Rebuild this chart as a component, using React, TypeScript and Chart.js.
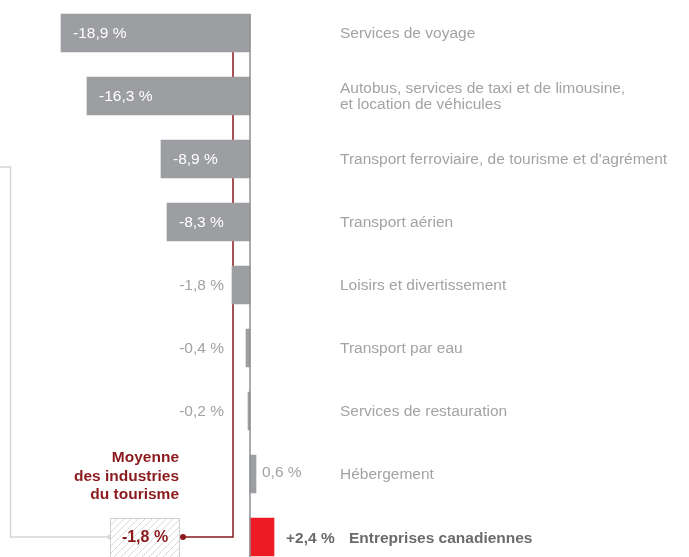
import React, { useEffect, useRef } from "react";
import { Chart, registerables } from "chart.js";

Chart.register(...registerables);

const categories: string[][] = [
  ["Services de voyage"],
  ["Autobus, services de taxi et de limousine,", "et location de véhicules"],
  ["Transport ferroviaire, de tourisme et d'agrément"],
  ["Transport aérien"],
  ["Loisirs et divertissement"],
  ["Transport par eau"],
  ["Services de restauration"],
  ["Hébergement"],
  ["Entreprises canadiennes"],
];
const values: number[] = [-18.9, -16.3, -8.9, -8.3, -1.8, -0.4, -0.2, 0.6, 2.4];
const valueLabels: string[] = ["-18,9 %", "-16,3 %", "-8,9 %", "-8,3 %", "-1,8 %", "-0,4 %", "-0,2 %", "0,6 %", "+2,4 %"];
const average = -1.8;
const averageLabel = "-1,8 %";
const averageTitle: string[] = ["Moyenne", "des industries", "du tourisme"];

const GRAY = "#9d9ea1";
const RED = "#ed1c24";
const DARKRED = "#8b1a1d";
const TEXTGRAY = "#a3a3a6";
const FONT = "'Liberation Sans', Arial, Helvetica, sans-serif";
const FS = 15.5;

const overlay = {
  id: "overlay",
  beforeDatasetsDraw(chart: any) {
    const { ctx } = chart;
    const xs = chart.scales.x;
    const ys = chart.scales.y;
    const last = values.length - 1;
    const xAvg = xs.getPixelForValue(average) + 1;
    const yTop = ys.getPixelForValue(0);
    const yLast = ys.getPixelForValue(last);
    const boxRight = xAvg - 53;
    const boxLeft = boxRight - 70;
    const boxTop = yLast - 19;
    const boxBottom = yLast + 21;
    ctx.save();
    // gray bracket
    ctx.strokeStyle = "#d6d6d6";
    ctx.lineWidth = 1.5;
    ctx.beginPath();
    ctx.moveTo(boxLeft, yLast);
    ctx.lineTo(10.5, yLast);
    ctx.lineTo(10.5, ys.getPixelForValue(2) + 8);
    ctx.lineTo(-2, ys.getPixelForValue(2) + 8);
    ctx.stroke();
    ctx.fillStyle = "#d6d6d6";
    ctx.beginPath();
    ctx.arc(boxLeft, yLast, 2.5, 0, Math.PI * 2);
    ctx.fill();
    // hatched box
    ctx.fillStyle = "#ffffff";
    ctx.fillRect(boxLeft, boxTop, boxRight - boxLeft, boxBottom - boxTop);
    ctx.save();
    ctx.beginPath();
    ctx.rect(boxLeft, boxTop, boxRight - boxLeft, boxBottom - boxTop);
    ctx.clip();
    ctx.strokeStyle = "#d9d9d9";
    ctx.lineWidth = 1;
    for (let k = -60; k < 120; k += 7) {
      ctx.beginPath();
      ctx.moveTo(boxLeft + k, boxBottom);
      ctx.lineTo(boxLeft + k + (boxBottom - boxTop), boxTop);
      ctx.stroke();
    }
    ctx.restore();
    ctx.strokeStyle = "#d0d0d0";
    ctx.lineWidth = 1;
    ctx.strokeRect(boxLeft + 0.5, boxTop + 0.5, boxRight - boxLeft - 1, boxBottom - boxTop);
    // average text in box
    ctx.fillStyle = DARKRED;
    ctx.font = `bold 16px ${FONT}`;
    ctx.textAlign = "center";
    ctx.textBaseline = "middle";
    ctx.fillText(averageLabel, (boxLeft + boxRight) / 2, yLast + 1);
    // title
    ctx.font = `bold ${FS}px ${FONT}`;
    ctx.textAlign = "right";
    averageTitle.forEach((t, i) => {
      ctx.fillText(t, boxRight - 1, yLast - 79 + i * 18.5);
    });
    // red average line
    ctx.strokeStyle = DARKRED;
    ctx.lineWidth = 1.5;
    ctx.beginPath();
    ctx.moveTo(xAvg, yTop);
    ctx.lineTo(xAvg, yLast);
    ctx.lineTo(boxRight + 3, yLast);
    ctx.stroke();
    ctx.fillStyle = DARKRED;
    ctx.beginPath();
    ctx.arc(boxRight + 3, yLast, 3, 0, Math.PI * 2);
    ctx.fill();
    ctx.restore();
  },
  afterDatasetsDraw(chart: any) {
    const { ctx } = chart;
    const xs = chart.scales.x;
    const ys = chart.scales.y;
    const x0 = xs.getPixelForValue(0);
    const xAvg = xs.getPixelForValue(average);
    const last = values.length - 1;
    ctx.save();
    // zero line
    ctx.strokeStyle = "#8e8f93";
    ctx.lineWidth = 1.5;
    ctx.beginPath();
    ctx.moveTo(x0, ys.getPixelForValue(0) - 19);
    ctx.lineTo(x0, chart.height);
    ctx.stroke();
    ctx.textBaseline = "middle";
    values.forEach((v, i) => {
      const y = ys.getPixelForValue(i);
      const xv = xs.getPixelForValue(v);
      const isLast = i === last;
      // value label
      if (v <= -5) {
        ctx.fillStyle = "#ffffff";
        ctx.font = `${FS}px ${FONT}`;
        ctx.textAlign = "left";
        ctx.fillText(valueLabels[i], xv + 12, y + 1);
      } else if (v < 0) {
        ctx.fillStyle = TEXTGRAY;
        ctx.font = `${FS}px ${FONT}`;
        ctx.textAlign = "right";
        ctx.fillText(valueLabels[i], Math.min(xv, xAvg) - 8, y + 1);
      } else if (isLast) {
        ctx.fillStyle = "#6b6b6e";
        ctx.font = `bold ${FS}px ${FONT}`;
        ctx.textAlign = "left";
        ctx.fillText(valueLabels[i], xv + 12, y + 2);
      } else {
        ctx.fillStyle = TEXTGRAY;
        ctx.font = `${FS}px ${FONT}`;
        ctx.textAlign = "left";
        ctx.fillText(valueLabels[i], xv + 6, y - 1);
      }
      // category label
      const lines = categories[i];
      ctx.textAlign = "left";
      if (isLast) {
        ctx.fillStyle = "#6b6b6e";
        ctx.font = `bold ${FS}px ${FONT}`;
        ctx.fillText(lines[0], x0 + 99, y + 2);
      } else {
        ctx.fillStyle = TEXTGRAY;
        ctx.font = `${FS}px ${FONT}`;
        const lh = 16;
        lines.forEach((t, k) => {
          ctx.fillText(t, x0 + 90, y + 1 + (k - (lines.length - 1) / 2) * lh);
        });
      }
    });
    ctx.restore();
  },
};

export default function App() {
  const ref = useRef<HTMLCanvasElement>(null);
  useEffect(() => {
    if (!ref.current) return;
    const chart = new Chart(ref.current, {
      type: "bar",
      data: {
        labels: categories.map((c) => c.join(" ")),
        datasets: [
          {
            data: values,
            backgroundColor: values.map((_, i) => (i === values.length - 1 ? RED : GRAY)),
            borderWidth: 0,
            barThickness: 38,
          },
        ],
      },
      options: {
        indexAxis: "y",
        animation: false,
        responsive: false,
        devicePixelRatio: 1,
        layout: { padding: { top: 1.5, bottom: 1.5, left: 0, right: 0 } },
        plugins: { legend: { display: false }, tooltip: { enabled: false } },
        scales: {
          x: { type: "linear", min: -25, max: 43.9, display: false },
          y: { type: "category", display: false, offset: true },
        },
      },
      plugins: [overlay],
    } as any);
    return () => chart.destroy();
  }, []);
  return (
    <div style={{ position: "fixed", left: 0, top: 0, width: 689, height: 557, overflow: "hidden", background: "#fff" }}>
      <canvas ref={ref} width={689} height={570} style={{ display: "block", width: 689, height: 570 }} />
    </div>
  );
}
